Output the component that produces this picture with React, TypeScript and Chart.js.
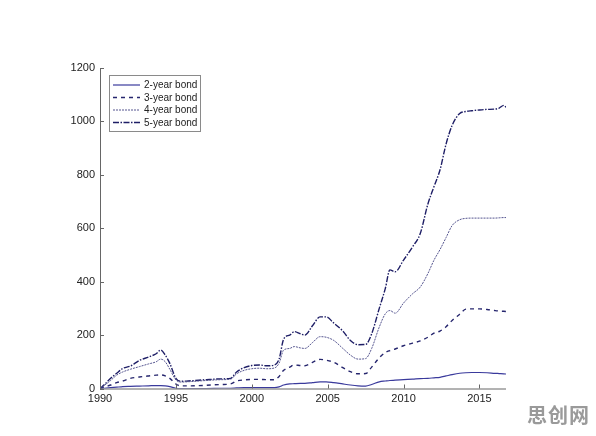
import React, { useEffect, useRef } from "react";
import { Chart, registerables } from "chart.js";

Chart.register(...registerables);

const years = [
  1990.0, 1990.3, 1990.7, 1991.1, 1991.5, 1992.0, 1992.6, 1993.2, 1993.7, 1994.0,
  1994.3, 1994.6, 1995.0, 1995.3, 1996.0, 1997.0, 1998.0, 1998.6, 1999.0, 1999.5,
  2000.0, 2000.5, 2001.0, 2001.5, 2001.8, 2002.1, 2002.5, 2002.8, 2003.2, 2003.5,
  2004.0, 2004.5, 2004.9, 2005.4, 2006.0, 2006.5, 2007.0, 2007.5, 2007.9, 2008.4,
  2008.8, 2009.1, 2009.45, 2010.0, 2010.6, 2011.1, 2011.6, 2012.0, 2012.4, 2012.8,
  2013.2, 2013.7, 2014.1, 2014.5, 2015.0, 2015.5, 2016.0, 2016.3, 2016.6, 2016.8,
];

const bond2 = [
  0, 1, 3, 5, 7, 8, 9, 10, 11, 11,
  10, 7, 1, 0, 0, 0, 1, 1, 2, 3,
  3, 3, 3, 3, 6, 13, 17, 18, 19, 19,
  22, 25, 25, 22, 17, 13, 10, 9, 15, 25,
  28, 30, 31, 33, 35, 37, 38, 40, 42, 47,
  52, 57, 59, 60, 60, 59, 57, 56, 55, 54,
];

const bond3 = [
  0, 5, 13, 22, 28, 38, 43, 47, 50, 51,
  47, 38, 17, 10, 10, 12, 15, 17, 28, 32,
  34, 34, 33, 33, 45, 68, 80, 88, 86, 85,
  98, 109, 106, 98, 78, 63, 55, 56, 80, 115,
  135, 142, 148, 160, 170, 178, 192, 207, 215, 231,
  255, 278, 297, 298, 298, 296, 292, 290, 289, 288,
];

const bond4 = [
  0, 12, 30, 50, 62, 72, 82, 92, 100, 110,
  100, 72, 32, 24, 26, 30, 33, 35, 55, 68,
  74, 76, 74, 77, 95, 144, 150, 157, 152, 150,
  172, 194, 192, 180, 150, 125, 110, 112, 150, 230,
  280, 292, 282, 320, 355, 380, 430, 480, 520, 565,
  610, 632, 637, 638, 638, 638, 638, 639, 640, 640,
];

const bond5 = [
  0, 15, 38, 57, 75, 84, 105, 118, 130, 144,
  125, 94, 38, 27, 29, 33, 36, 38, 62, 78,
  86, 88, 85, 88, 110, 185, 200, 213, 205, 200,
  235, 268, 268, 245, 215, 180, 164, 165, 205, 300,
  375, 444, 437, 481, 531, 580, 690, 755, 818, 915,
  985, 1030, 1037, 1040, 1043, 1045, 1046, 1050, 1060, 1050,
];

const seriesNames = ["2-year bond", "3-year bond", "4-year bond", "5-year bond"];
const xTicks = [1990, 1995, 2000, 2005, 2010, 2015];
const yTicks = [0, 200, 400, 600, 800, 1000, 1200];

const styles = [
  { color: "#3a3a9c", width: 1.2, dash: [] as number[] },
  { color: "#26266e", width: 1.4, dash: [4, 4] },
  { color: "#55558f", width: 1.0, dash: [2, 1] },
  { color: "#1e1e66", width: 1.4, dash: [6, 1.5, 1.5, 1.5] },
];

const FONT = "'Liberation Sans', Arial, sans-serif";

const axesPlugin = {
  id: "matlabAxes",
  afterDraw(chart: any) {
    const { ctx, chartArea, scales } = chart;
    const x = scales.x;
    const y = scales.y;
    ctx.save();
    ctx.strokeStyle = "#666";
    ctx.lineWidth = 1;
    ctx.beginPath();
    ctx.moveTo(chartArea.left + 0.5, chartArea.top);
    ctx.lineTo(chartArea.left + 0.5, chartArea.bottom + 0.5);
    ctx.lineTo(chartArea.right, chartArea.bottom + 0.5);
    ctx.stroke();
    ctx.beginPath();
    xTicks.forEach((v) => {
      const px = Math.round(x.getPixelForValue(v)) + 0.5;
      ctx.moveTo(px, chartArea.bottom);
      ctx.lineTo(px, chartArea.bottom - 4);
    });
    yTicks.forEach((v) => {
      const py = Math.round(y.getPixelForValue(v)) + 0.5;
      ctx.moveTo(chartArea.left, py);
      ctx.lineTo(chartArea.left + 4, py);
    });
    ctx.stroke();

    // legend box
    const bx = 109, by = 75, bw = 91, bh = 56;
    ctx.fillStyle = "#ffffff";
    ctx.fillRect(bx, by, bw, bh);
    ctx.strokeStyle = "#8a8a8a";
    ctx.lineWidth = 1;
    ctx.strokeRect(bx + 0.5, by + 0.5, bw, bh);
    ctx.font = `10px ${FONT}`;
    ctx.textBaseline = "middle";
    ctx.textAlign = "left";
    seriesNames.forEach((name, i) => {
      const ry = by + 10 + i * 12.5;
      const st = styles[i];
      ctx.strokeStyle = st.color;
      ctx.lineWidth = st.width;
      ctx.setLineDash(st.dash);
      ctx.beginPath();
      ctx.moveTo(bx + 4, ry);
      ctx.lineTo(bx + 31, ry);
      ctx.stroke();
      ctx.setLineDash([]);
      ctx.fillStyle = "#222";
      ctx.fillText(name, bx + 35, ry + 0.5);
    });
    ctx.restore();
  },
};

export default function App() {
  const ref = useRef<HTMLCanvasElement | null>(null);

  useEffect(() => {
    if (!ref.current) return;
    const allSeries = [bond2, bond3, bond4, bond5];
    const chart = new Chart(ref.current, {
      type: "line",
      data: {
        datasets: allSeries.map((vals, i) => ({
          label: seriesNames[i],
          data: years.map((yr, k) => ({ x: yr, y: vals[k] })),
          borderColor: styles[i].color,
          borderWidth: styles[i].width,
          borderDash: styles[i].dash,
          pointRadius: 0,
          fill: false,
          cubicInterpolationMode: "monotone" as const,
        })),
      },
      options: {
        animation: false,
        responsive: false,
        maintainAspectRatio: false,
        layout: { padding: { left: 0, right: 90, top: 68, bottom: 0 } },
        plugins: {
          legend: { display: false },
          tooltip: { enabled: false },
        },
        scales: {
          x: {
            type: "linear",
            min: 1990,
            max: 2016.75,
            afterBuildTicks: (s: any) => {
              s.ticks = xTicks.map((v) => ({ value: v }));
            },
            afterFit: (s: any) => {
              s.height = 47.5;
            },
            grid: { display: false, drawTicks: false },
            border: { display: false },
            ticks: {
              color: "#222",
              font: { family: FONT, size: 11 },
              padding: 4,
              maxRotation: 0,
              callback: (v: any) => String(v),
            },
          },
          y: {
            type: "linear",
            min: 0,
            max: 1200,
            afterBuildTicks: (s: any) => {
              s.ticks = yTicks.map((v) => ({ value: v }));
            },
            afterFit: (s: any) => {
              s.width = 100;
            },
            grid: { display: false, drawTicks: false },
            border: { display: false },
            ticks: {
              color: "#222",
              font: { family: FONT, size: 11 },
              padding: 5,
              callback: (v: any) => String(v),
            },
          },
        },
      },
      plugins: [axesPlugin],
    });
    return () => chart.destroy();
  }, []);

  return (
    <div
      style={{
        position: "absolute",
        left: 0,
        top: 0,
        width: 596,
        height: 436,
        background: "#ffffff",
      }}
    >
      <canvas ref={ref} width={596} height={436} style={{ width: 596, height: 436, display: "block" }} />
      <div
        style={{
          position: "absolute",
          left: 527,
          top: 403,
          fontFamily: "'Noto Sans CJK SC', sans-serif",
          fontWeight: 700,
          fontSize: 20,
          color: "#9a9a9a",
          letterSpacing: 1,
          lineHeight: "24px",
        }}
      >
        思创网
      </div>
    </div>
  );
}
